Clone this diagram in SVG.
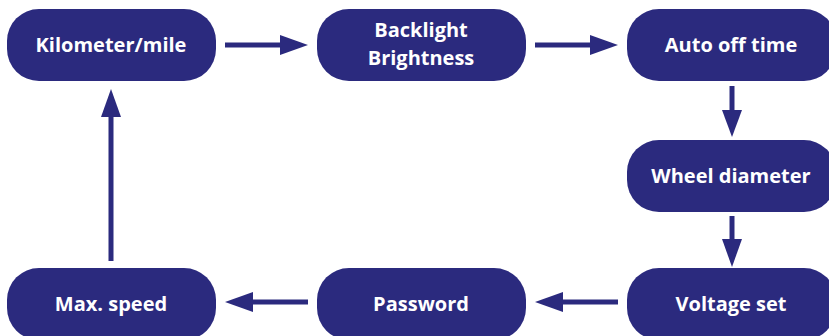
<svg xmlns="http://www.w3.org/2000/svg" width="829" height="336" viewBox="0 0 829 336">
<defs>
<style>
.box{fill:#2B2A7E}
.t{fill:#fff;font-family:"Open Sans","Liberation Sans",sans-serif;font-weight:bold;font-size:20px;text-anchor:middle}
.c{stroke:#2B2A7E;stroke-width:5;fill:none}
.h{fill:#2B2A7E}
</style>
</defs>
<rect width="829" height="336" fill="#fff"/>
<g id="kilometer"><rect class="box" x="7" y="9" width="209" height="72" rx="32"/><text class="t" x="111" y="52">Kilometer/mile</text></g>
<g id="backlight"><rect class="box" x="317" y="9" width="209" height="72" rx="32"/><text class="t" x="421" y="37">Backlight</text><text class="t" x="421" y="65">Brightness</text></g>
<g id="autooff"><rect class="box" x="627" y="9" width="209" height="72" rx="32"/><text class="t" x="731" y="52">Auto off time</text></g>
<g id="wheel"><rect class="box" x="627" y="140" width="209" height="72" rx="32"/><text class="t" x="731" y="183">Wheel diameter</text></g>
<g id="voltage"><rect class="box" x="627" y="268" width="209" height="72" rx="32"/><text class="t" x="731" y="311">Voltage set</text></g>
<g id="password"><rect class="box" x="317" y="268" width="209" height="72" rx="32"/><text class="t" x="421" y="311">Password</text></g>
<g id="maxspeed"><rect class="box" x="7" y="268" width="209" height="72" rx="32"/><text class="t" x="111" y="311">Max. speed</text></g>
<g id="connectors">
<line class="c" x1="225" y1="45" x2="282" y2="45"/><polygon class="h" points="280,35 308,45 280,55"/>
<line class="c" x1="535" y1="45" x2="592" y2="45"/><polygon class="h" points="590,35 618,45 590,55"/>
<line class="c" x1="732" y1="86" x2="732" y2="112"/><polygon class="h" points="722,110 742,110 732,137"/>
<line class="c" x1="732" y1="216" x2="732" y2="241"/><polygon class="h" points="722,239 742,239 732,267"/>
<line class="c" x1="618" y1="302" x2="561" y2="302"/><polygon class="h" points="563,292 535,302 563,312"/>
<line class="c" x1="308" y1="302" x2="251" y2="302"/><polygon class="h" points="253,292 225,302 253,312"/>
<line class="c" x1="111" y1="261" x2="111" y2="115"/><polygon class="h" points="101,117 121,117 111,89"/>
</g>
</svg>
